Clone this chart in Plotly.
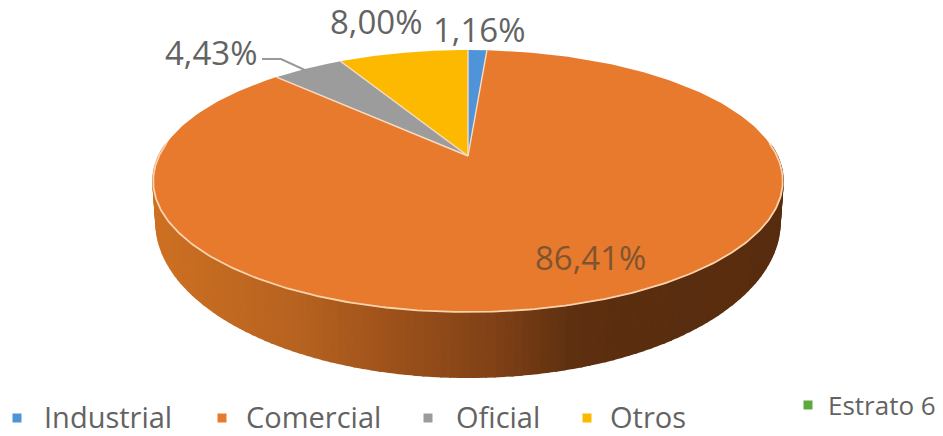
import numpy as np
import plotly.graph_objects as go

# Share of each sector, clockwise from the top of the pie
categories = ["Industrial", "Comercial", "Oficial", "Otros"]
values = [1.16, 86.41, 4.43, 8.00]
value_labels = ["1,16%", "86,41%", "4,43%", "8,00%"]
slice_colors = ["#4f93d8", "#e87a2e", "#9c9c9c", "#fdb900"]
legend_extra = "Estrato 6"
legend_extra_color = "#5fa83c"

WIDTH, HEIGHT = 943, 436
TILT = 0.191  # perspective strength of the tilted disc
CX = 468


def face(theta, cy, a, b):
    """Project an angle on the disc onto the page, with perspective."""
    u, v = np.sin(theta), np.cos(theta)
    w = 1 + TILT * v
    return CX + a * u / w, cy - b * v / w


def top(theta):
    return face(theta, 156, 309, 126.2)


def base(theta):
    return face(theta, 192.5, 306, 149.3)


def side_color(x):
    stops_x = [155, 300, 400, 500, 570, 620, 790]
    stops_r = [205, 182, 155, 125, 95, 90, 88]
    stops_g = [112, 98, 80, 64, 48, 46, 44]
    stops_b = [34, 32, 26, 22, 16, 15, 14]
    r = np.interp(x, stops_x, stops_r)
    g = np.interp(x, stops_x, stops_g)
    b = np.interp(x, stops_x, stops_b)
    return f"rgb({r:.0f},{g:.0f},{b:.0f})"


fig = go.Figure()


def add_poly(xs, ys, fill, line=None, width=0):
    fig.add_trace(go.Scatter(
        x=list(xs), y=list(ys), mode="lines", fill="toself", fillcolor=fill,
        line=dict(color=line or fill, width=width), hoverinfo="skip",
        showlegend=False,
    ))


# Rim of the disc, built from narrow strips to carry the shading
edges = np.radians(np.linspace(85, 275, 141))
for t0, t1 in zip(edges[:-1], edges[1:]):
    x0, y0 = top(t0)
    x1, y1 = top(t1)
    x2, y2 = base(t1)
    x3, y3 = base(t0)
    add_poly([x0, x1, x2, x3, x0], [y0, y1, y2, y3, y0],
             side_color((x0 + x1 + x2 + x3) / 4), width=2)

# Top face: one wedge per category
fractions = np.cumsum([0] + values) / sum(values)
for i, color in enumerate(slice_colors):
    thetas = np.linspace(fractions[i], fractions[i + 1], 240) * 2 * np.pi
    px, py = top(thetas)
    add_poly(np.r_[CX, px, CX], np.r_[156, py, 156], color)

# Pale separators between wedges
for f in fractions[:-1]:
    px, py = top(f * 2 * np.pi)
    fig.add_trace(go.Scatter(
        x=[CX, px], y=[156, py], mode="lines",
        line=dict(color="#f6dcc6", width=1.4), hoverinfo="skip", showlegend=False,
    ))

# Bright highlight along the front edge
rim = np.radians(np.linspace(84, 276, 240))
px, py = top(rim)
fig.add_trace(go.Scatter(
    x=px, y=py, mode="lines", line=dict(color="#fbd3ad", width=1.8),
    hoverinfo="skip", showlegend=False,
))

# Leader line of the small grey wedge
shapes = [dict(
    type="path", path="M 262 59 L 281 59 L 307 71",
    line=dict(color="#9a9a9a", width=2), layer="above",
)]

TEXT = "#636363"
FONT = "Open Sans"
label_pos = {0: (479, 29), 1: (590, 257), 2: (211, 52), 3: (376, 21)}
annotations = []
for i, label in enumerate(value_labels):
    x, y = label_pos[i]
    annotations.append(dict(
        x=x, y=y, text=label, showarrow=False, xanchor="center", yanchor="middle",
        font=dict(family=FONT, size=33, color="#7f5430" if i == 1 else TEXT),
    ))

# Legend row, with the fifth entry set apart at the right
legend_rows = [
    (categories[0], slice_colors[0], 17, 108, 416, 29),
    (categories[1], slice_colors[1], 222, 313, 416, 29),
    (categories[2], slice_colors[2], 428, 498, 416, 29),
    (categories[3], slice_colors[3], 587, 648, 416, 29),
    (legend_extra, legend_extra_color, 808, 882, 405, 26),
]
for name, color, sx, tx, y, size in legend_rows:
    swatch_y = 418 if y == 416 else y
    shapes.append(dict(
        type="rect", x0=sx - 4.5, x1=sx + 4.5, y0=swatch_y - 4.5, y1=swatch_y + 4.5,
        fillcolor=color, line=dict(width=0),
    ))
    annotations.append(dict(
        x=tx, y=y, text=name, showarrow=False, xanchor="center", yanchor="middle",
        font=dict(family=FONT, size=size, color=TEXT),
    ))

fig.update_layout(
    width=WIDTH, height=HEIGHT, autosize=False,
    margin=dict(l=0, r=0, t=0, b=0),
    paper_bgcolor="white", plot_bgcolor="white",
    xaxis=dict(range=[0, WIDTH], visible=False, fixedrange=True),
    yaxis=dict(range=[HEIGHT, 0], visible=False, fixedrange=True),
    shapes=shapes, annotations=annotations, showlegend=False,
)

fig.write_html("out.html")
